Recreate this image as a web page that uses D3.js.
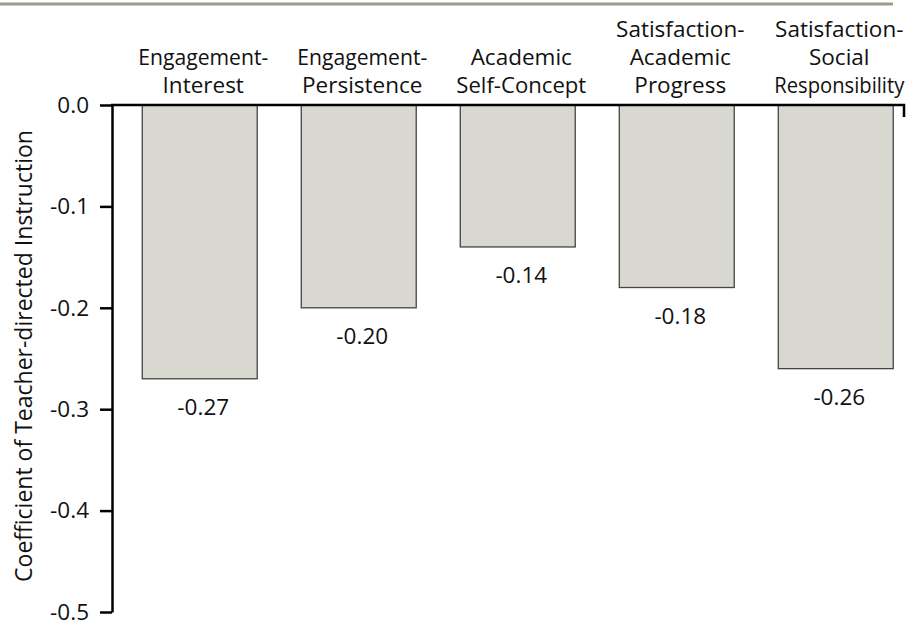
<!DOCTYPE html>
<html>
<head>
<meta charset="utf-8">
<script src="https://cdn.jsdelivr.net/npm/d3@7"></script>
<style>
  body { margin: 0; background: #fff; }
  svg text { font-family: "Open Sans", sans-serif; fill: #111; }
</style>
</head>
<body>
<div id="chart"></div>
<script>
// categories, split into lines
var categories = [
    ["Engagement-", "Interest"],
    ["Engagement-", "Persistence"],
    ["Academic", "Self-Concept"],
    ["Satisfaction-", "Academic", "Progress"],
    ["Satisfaction-", "Social", "Responsibility"]
];
var values = [-0.27, -0.20, -0.14, -0.18, -0.26];
var valueLabels = ["-0.27", "-0.20", "-0.14", "-0.18", "-0.26"];
var yTicks = [0, -0.1, -0.2, -0.3, -0.4, -0.5];
var yTickLabels = ["0.0", "-0.1", "-0.2", "-0.3", "-0.4", "-0.5"];
var yTitle = "Coefficient of Teacher-directed Instruction";

var width = 910, height = 628;
var fs = 22.5;

var svg = d3.select("#chart").append("svg")
    .attr("width", width)
    .attr("height", height);

// header rule
svg.append("line")
    .attr("x1", 0).attr("x2", 893)
    .attr("y1", 4).attr("y2", 4)
    .attr("stroke", "#9c9c86")
    .attr("stroke-width", 3);

var y = d3.scaleLinear().domain([0, -0.5]).range([105, 612]);
var x = d3.scaleBand()
    .domain(d3.range(values.length))
    .range([119.5, 915])
    .paddingInner(0.277)
    .paddingOuter(0.14);
var mid = function(i) { return x(i) + x.bandwidth() / 2 + 4; };

// bars
svg.append("g").selectAll("rect")
    .data(values)
    .enter().append("rect")
    .attr("x", function(d, i) { return x(i) + 0.5; })
    .attr("y", y(0))
    .attr("width", x.bandwidth())
    .attr("height", function(d) { return y(d) - y(0); })
    .attr("fill", "#d8d8d0")
    .attr("stroke", "#444")
    .attr("stroke-width", 1.3);

// y axis
var yAxis = d3.axisLeft(y)
    .tickValues(yTicks)
    .tickFormat(function(d, i) { return yTickLabels[i]; })
    .tickSize(12)
    .tickSizeOuter(0)
    .tickPadding(11);

var ga = svg.append("g")
    .attr("transform", "translate(112,0)")
    .call(yAxis);
ga.select(".domain").attr("stroke", "#000").attr("stroke-width", 2.5);
ga.selectAll(".tick line").attr("stroke", "#000").attr("stroke-width", 2.5);
ga.selectAll(".tick text")
    .style("font-size", fs + "px")
    .style("font-family", "'Open Sans', sans-serif")
    .attr("fill", "#111");

// zero line, small tick at the right end
svg.append("path")
    .attr("d", "M" + 111 + "," + y(0) + "H" + 904 + "V" + (y(0) + 12))
    .attr("fill", "none")
    .attr("stroke", "#000")
    .attr("stroke-width", 2.5);

// category labels; over-wide lines get a slightly smaller size and a squeeze
var lineH = 28, maxW = 130;
svg.append("g").selectAll("text")
    .data(categories)
    .enter().append("text")
    .attr("text-anchor", "middle")
    .style("font-size", fs + "px")
    .each(function(d, i) {
        var t = d3.select(this);
        var n = d.length;
        d.forEach(function(line, j) {
            var ts = t.append("tspan")
                .attr("x", mid(i))
                .attr("y", 93 - (n - 1 - j) * lineH)
                .text(line);
            var w = ts.node().getComputedTextLength();
            if (w > maxW) {
                ts.style("font-size", "21px")
                  .attr("textLength", maxW)
                  .attr("lengthAdjust", "spacingAndGlyphs");
            }
        });
    });

// value labels
svg.append("g").selectAll("text")
    .data(values)
    .enter().append("text")
    .attr("text-anchor", "middle")
    .attr("x", function(d, i) { return mid(i); })
    .attr("y", function(d) { return y(d) + 36; })
    .style("font-size", fs + "px")
    .text(function(d, i) { return valueLabels[i]; });

// y title
svg.append("text")
    .attr("transform", "translate(32,356) rotate(-90)")
    .attr("text-anchor", "middle")
    .style("font-size", "23px")
    .text(yTitle);
</script>
</body>
</html>
